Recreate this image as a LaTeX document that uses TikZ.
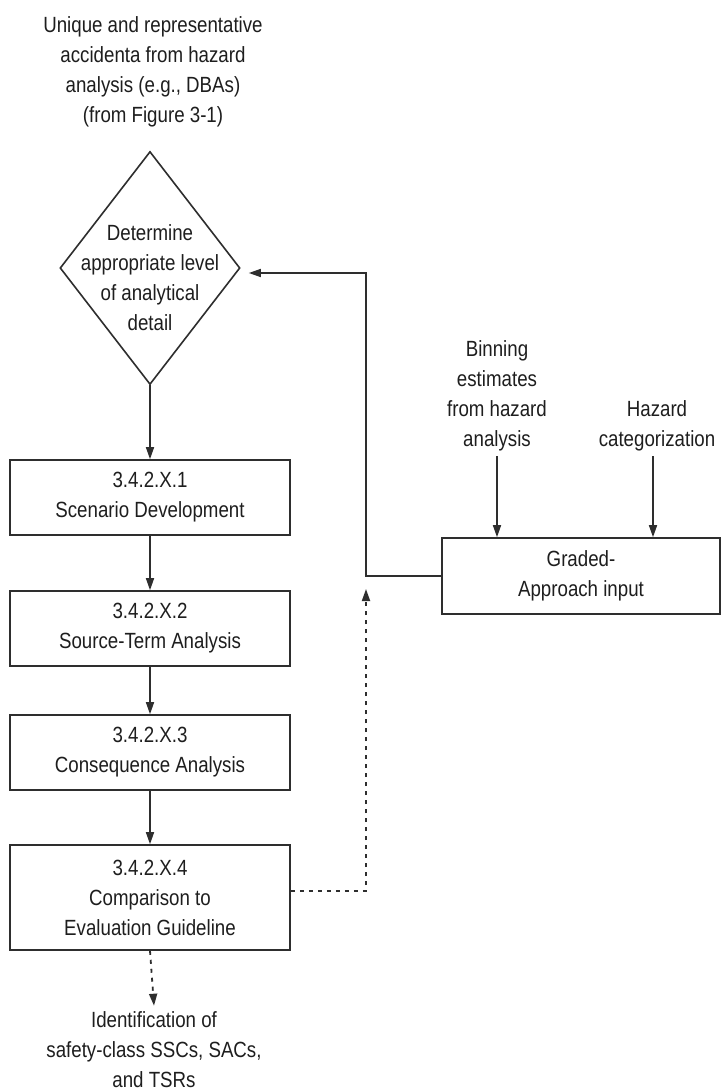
\documentclass[tikz,border=0pt]{standalone}
\usepackage{fontspec}
\setmainfont{Liberation Sans}[FakeStretch=0.85]
\usetikzlibrary{arrows.meta,shapes.geometric}
\definecolor{ink}{HTML}{2E2E2E}
\definecolor{txt}{HTML}{1E1E1E}
\begin{document}
\begin{tikzpicture}[x=1pt,y=-1pt,
  lbl/.style={font=\fontsize{22}{30}\selectfont, align=center, text=txt, inner sep=3pt},
  stepbox/.style={lbl, draw=ink, line width=1.6pt, minimum width=280pt},
  ln/.style={draw=ink, line width=1.5pt},
  arr/.style={ln, -{Triangle[length=12pt,width=8pt]}},
  dsh/.style={ln, line width=1.8pt, dash pattern=on 4pt off 5pt}]
\useasboundingbox (0,0) rectangle (723,1092);
\fill[white] (0,0) rectangle (723,1092);

\node[lbl] (src) at (153,72) {Unique and representative\\accidenta from hazard\\analysis (e.g., DBAs)\\(from Figure 3-1)};

\node[diamond, draw=ink, line width=1.6pt, minimum width=180pt, minimum height=233pt, inner sep=0pt] (dia) at (150,268) {};
\node[lbl] (diatext) at (150,278) {Determine\\appropriate level\\of analytical\\detail};

\node[stepbox, minimum height=75pt] (b1) at (150,497.5) {3.4.2.X.1\\Scenario Development};
\node[stepbox, minimum height=75pt] (b2) at (150,628.5) {3.4.2.X.2\\Source-Term Analysis};
\node[stepbox, minimum height=75pt] (b3) at (150,752.5) {3.4.2.X.3\\Consequence Analysis};
\node[stepbox, minimum height=105pt] (b4) at (150,897.5) {3.4.2.X.4\\Comparison to\\Evaluation Guideline};

\node[lbl, inner sep=6pt] (out) at (154,1050) {Identification of\\safety-class SSCs, SACs,\\and TSRs};

\node[stepbox, minimum width=278pt, minimum height=76pt] (ga) at (581,576) {Graded-\\Approach input};

\node[lbl, inner sep=5pt] (bin) at (497,396) {Binning\\estimates\\from hazard\\analysis};
\node[lbl, inner sep=5pt] (haz) at (657,426) {Hazard\\categorization};

% main chain
\draw[arr] (dia.south) -- (b1.north);
\draw[arr] (b1.south) -- (b2.north);
\draw[arr] (b2.south) -- (b3.north);
\draw[arr] (b3.south) -- (b4.north);
\draw[dsh, -{Triangle[length=12pt,width=8pt]}] (b4.south) -- (out.north);

% graded approach feedback
\coordinate (jlow) at (366,576);
\coordinate (jtop) at (366,273);
\path ([xshift=8pt]dia.east) coordinate (dtip);
\draw[arr] (ga.west) -- (jlow) -- (jtop) -- (jtop -| dtip);

% dashed return from comparison
\coordinate (dcor) at (366,891);
\coordinate (dend) at (366,589);
\draw[dsh, -{Triangle[length=12pt,width=8pt]}] (b4.east |- dcor) -- (dcor) -- (dend);

% inputs to graded approach
\draw[arr] (bin.south) -- (bin.south |- ga.north);
\draw[arr] (haz.south -| 653,0) -- (653,0 |- ga.north);
\end{tikzpicture}
\end{document}
